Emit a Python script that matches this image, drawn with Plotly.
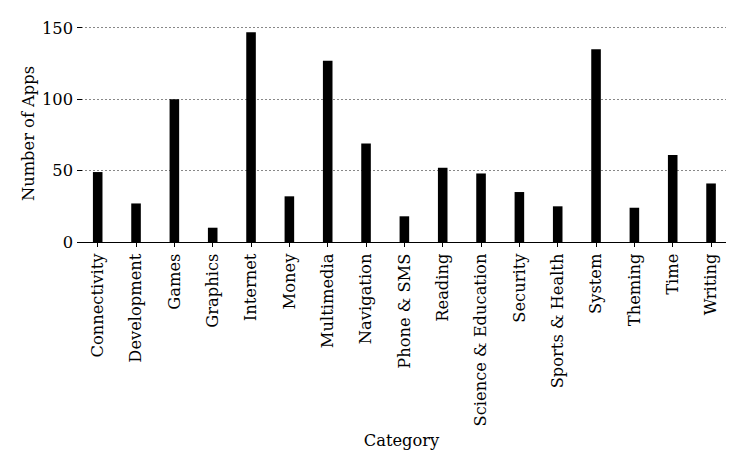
import plotly.graph_objects as go

categories = ["Connectivity", "Development", "Games", "Graphics", "Internet", "Money",
              "Multimedia", "Navigation", "Phone & SMS", "Reading", "Science & Education",
              "Security", "Sports & Health", "System", "Theming", "Time", "Writing"]
app_counts = [49, 27, 100, 10, 147, 32, 127, 69, 18, 52, 48, 35, 25, 135, 24, 61, 41]
y_ticks = [0, 50, 100, 150]

font = dict(family="DejaVu Serif", size=16.3, color="black")

fig = go.Figure(go.Bar(
    x=list(range(len(categories))),
    y=app_counts,
    width=0.25,
    marker=dict(color="black", line=dict(width=0)),
))

# page has an 8px body margin, so the figure is a bit smaller than the window
fig.update_layout(
    width=739, height=459,
    margin=dict(l=69, r=21, t=17, b=225),
    paper_bgcolor="white", plot_bgcolor="white",
    font=font,
    showlegend=False,
)
fig.update_xaxes(
    range=[-0.54, 16.39],
    tickvals=list(range(len(categories))),
    ticktext=categories,
    tickangle=-90,
    tickfont=font,
    ticks="outside", ticklen=4, tickcolor="black",
    showline=True, linecolor="black", linewidth=1.2,
    showgrid=False, zeroline=False,
    automargin=False,
    title=dict(text="Category", font=font, standoff=9),
)
fig.update_yaxes(
    range=[0, 152],
    tickvals=y_ticks,
    tickfont=font,
    ticks="inside", ticklen=5, tickcolor="black",
    ticklabelstandoff=3,
    showline=False, zeroline=False,
    showgrid=True, gridcolor="#888888", griddash="1.5px,2.5px", gridwidth=1,
    automargin=False,
    title=dict(text="Number of Apps", font=font, standoff=3),
)

fig.write_html("out.html")
